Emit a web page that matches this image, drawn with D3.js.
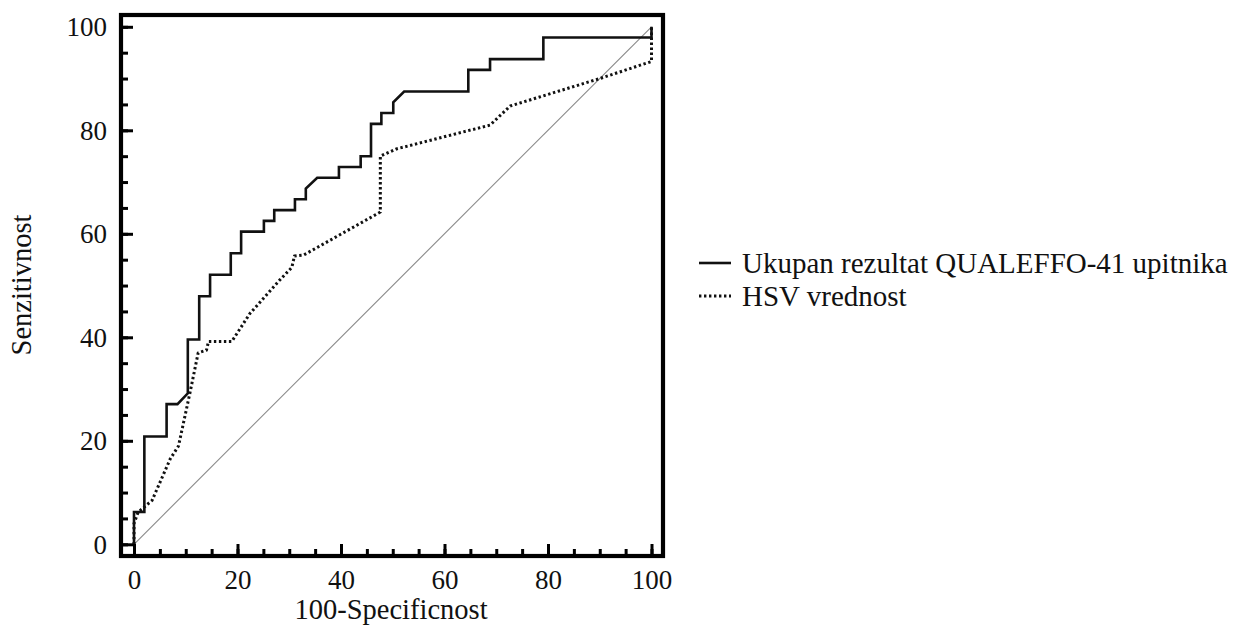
<!DOCTYPE html>
<html><head><meta charset="utf-8">
<script src="https://cdn.jsdelivr.net/npm/d3@7/dist/d3.min.js"></script>
<style>
html,body{margin:0;padding:0;background:#fff;}
svg text{font-family:"Liberation Serif","Times New Roman",serif;fill:#111;}
</style></head>
<body><svg id="c" width="1242" height="637"></svg>
<script>
// ---- data ----
const seriesNames = ["Ukupan rezultat QUALEFFO-41 upitnika", "HSV vrednost"];
const qualeffoX = [0,0,2.0,2.0,6.3,6.3,8.4,10.4,10.4,12.6,12.6,14.7,14.7,18.7,18.7,20.7,20.7,25.1,25.1,27.1,27.1,31.1,31.1,33.2,33.2,35.4,39.6,39.6,43.8,43.8,45.8,45.8,47.8,47.8,50.1,50.1,52.2,64.6,64.6,68.8,68.8,79.1,79.1,100,100];
const qualeffoY = [0,6.25,6.25,20.83,20.83,27.08,27.08,29.17,39.58,39.58,47.92,47.92,52.08,52.08,56.25,56.25,60.42,60.42,62.5,62.5,64.58,64.58,66.67,66.67,68.75,70.83,70.83,72.92,72.92,75,75,81.25,81.25,83.33,83.33,85.42,87.5,87.5,91.67,91.67,93.75,93.75,97.92,97.92,100];
const hsvX = [0,0,0.8,3.5,7.0,8.6,10.8,12.4,14.0,14.4,18.9,22.4,28.2,30.5,31.0,32.8,47.6,47.6,50.7,68.8,72.7,90.0,100,100];
const hsvY = [0,4,6.2,8.5,16.5,19,29.2,37,37.5,39.2,39.2,44.6,51.1,53.5,55.7,55.9,64.2,75,76.4,81,84.7,90.0,93.3,100];
const refX = [0,100];
const refY = [0,100];
const majorTicks = [0,20,40,60,80,100];
const minorTicks = d3.range(0,101,5);
const xTitle = "100-Specificnost";
const yTitle = "Senzitivnost";

// ---- layout ----
const svg = d3.select("#c");
const FS = 27, FT = 28.5, FL = 29;
const frame = {l:121, t:15, r:663, b:556};
const x = d3.scaleLinear().domain([0,100]).range([134,651.5]);
const y = d3.scaleLinear().domain([0,100]).range([544.3,26.8]);

const toPts = (xs,ys)=>xs.map((v,i)=>[v,ys[i]]);
const line = d3.line().x(d=>x(d[0])).y(d=>y(d[1]));

// reference diagonal
svg.append("path").attr("d",line(toPts(refX,refY)))
  .attr("fill","none").attr("stroke","#8a8a8a").attr("stroke-width",1.1);
// HSV dotted
svg.append("path").attr("d",line(toPts(hsvX,hsvY)))
  .attr("fill","none").attr("stroke","#111").attr("stroke-width",3)
  .attr("stroke-dasharray","2.4,2.6").attr("stroke-linejoin","round");
// QUALEFFO solid
svg.append("path").attr("d",line(toPts(qualeffoX,qualeffoY)))
  .attr("fill","none").attr("stroke","#111").attr("stroke-width",2.6);

// axes with inward ticks
function styleAxis(g){ g.select(".domain").remove(); g.selectAll("line").attr("stroke","#000").attr("stroke-width",3); }
svg.append("g").attr("transform",`translate(${frame.l},0)`)
  .call(d3.axisLeft(y).tickValues(minorTicks).tickSize(-7).tickFormat(""))
  .call(styleAxis);
svg.append("g").attr("transform",`translate(${frame.l},0)`)
  .call(d3.axisLeft(y).tickValues(majorTicks).tickSize(-12).tickPadding(0).tickFormat(d3.format("d")))
  .call(styleAxis)
  .call(g=>g.attr("font-family",null).selectAll("text").attr("x",-14).attr("dy","0.34em").style("font-size",FS+"px"));
svg.append("g").attr("transform",`translate(0,${frame.b})`)
  .call(d3.axisBottom(x).tickValues(minorTicks).tickSize(-7).tickFormat(""))
  .call(styleAxis);
svg.append("g").attr("transform",`translate(0,${frame.b})`)
  .call(d3.axisBottom(x).tickValues(majorTicks).tickSize(-12).tickFormat(d3.format("d")))
  .call(styleAxis)
  .call(g=>g.attr("font-family",null).selectAll("text").attr("y",14).attr("dy","0.71em").style("font-size",FS+"px"));

// frame
svg.append("rect").attr("x",frame.l).attr("y",frame.t)
  .attr("width",frame.r-frame.l).attr("height",frame.b-frame.t)
  .attr("fill","none").attr("stroke","#000").attr("stroke-width",4.2);

// titles
svg.append("text").attr("x",391).attr("y",619).attr("text-anchor","middle")
  .style("font-size",FT+"px").text(xTitle);
svg.append("text").attr("transform","translate(31,285) rotate(-90)").attr("text-anchor","middle")
  .style("font-size",FT+"px").text(yTitle);

// legend
const leg = svg.append("g");
const legStyles = [{w:2.6,dash:null},{w:3,dash:"2.4,2.6"}];
seriesNames.forEach((n,i)=>{
  const ly = 263 + i*33;
  leg.append("line").attr("x1",699).attr("x2",731).attr("y1",ly).attr("y2",ly)
    .attr("stroke","#111").attr("stroke-width",legStyles[i].w)
    .attr("stroke-dasharray",legStyles[i].dash);
  leg.append("text").attr("x",742).attr("y",ly).attr("dy","0.34em")
    .style("font-size",FL+"px").text(n);
});
</script></body></html>
